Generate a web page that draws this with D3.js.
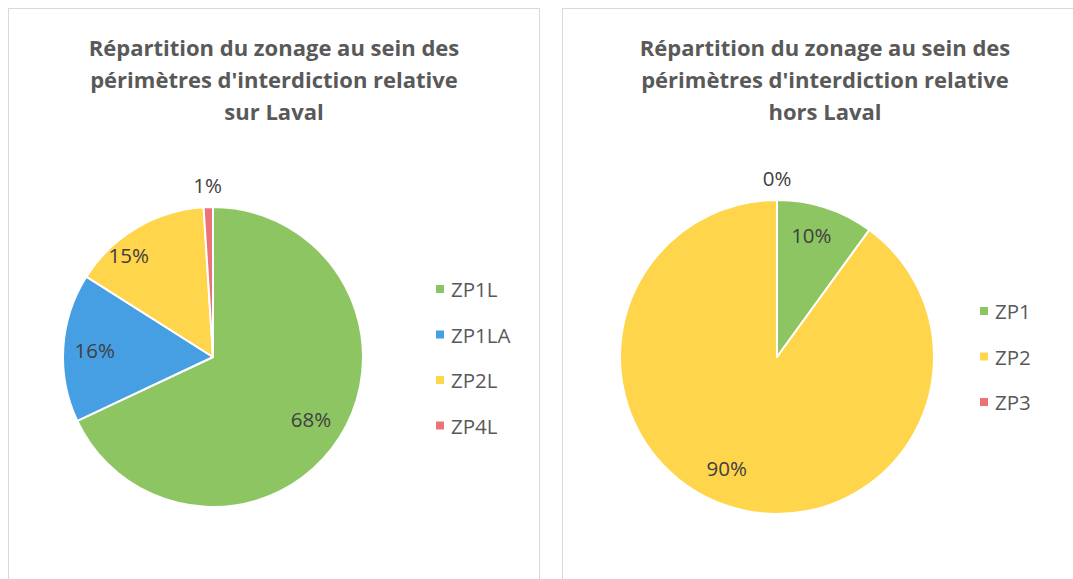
<!DOCTYPE html>
<html>
<head>
<meta charset="utf-8">
<script src="https://cdn.jsdelivr.net/npm/d3@7"></script>
<style>
  html, body { margin: 0; padding: 0; background: #fff; }
  svg { display: block; }
</style>
</head>
<body>
<svg id="chart" width="1073" height="579"></svg>
<script>
// Zonage au sein des périmètres d'interdiction relative
const lavalCategories = ["ZP1L", "ZP1LA", "ZP2L", "ZP4L"];
const lavalValues = [68, 16, 15, 1];
const lavalTitle = ["Répartition du zonage au sein des", "périmètres d'interdiction relative", "sur Laval"];

const horsCategories = ["ZP1", "ZP2", "ZP3"];
const horsValues = [10, 90, 0];
const horsTitle = ["Répartition du zonage au sein des", "périmètres d'interdiction relative", "hors Laval"];

const lavalColors = ["#8DC563", "#479FE3", "#FFD54B", "#EA7378"];
const horsColors = ["#8DC563", "#FFD54B", "#EA7378"];

const svg = d3.select("#chart");
const FONT = "'Open Sans', sans-serif";
const LABEL_SIZE = 20.5;

function drawPanel(cfg) {
  const g = svg.append("g");
  // panel frame
  g.append("rect")
    .attr("x", cfg.frame[0] + 0.5).attr("y", cfg.frame[1] + 0.5)
    .attr("width", cfg.frame[2]).attr("height", cfg.frame[3])
    .attr("fill", "#fff").attr("stroke", "#D9D9D9").attr("stroke-width", 1);

  // title
  g.append("text")
    .attr("x", cfg.titleX).attr("y", 56)
    .attr("text-anchor", "middle")
    .attr("font-family", FONT).attr("font-weight", "bold")
    .attr("font-size", cfg.titleSize).attr("fill", "#595959")
    .selectAll("tspan").data(cfg.title).join("tspan")
    .attr("x", cfg.titleX).attr("dy", (d, i) => i === 0 ? 0 : 32)
    .text(d => d);

  const data = cfg.categories.map((c, i) => ({ cat: c, value: cfg.values[i], color: cfg.colors[i] }));
  const pie = d3.pie().sort(null).value(d => d.value);
  const arcs = pie(data);
  const arc = d3.arc().innerRadius(0).outerRadius(cfg.r);

  const pg = g.append("g").attr("transform", `translate(${cfg.cx},${cfg.cy})`);
  pg.selectAll("path").data(arcs).join("path")
    .attr("d", arc)
    .attr("fill", d => d.data.color)
    .attr("stroke", "#fff").attr("stroke-width", 2).attr("stroke-linejoin", "round");

  // data labels: inside for large slices, above the pie for tiny ones
  pg.selectAll("text.lbl").data(arcs).join("text")
    .attr("class", "lbl")
    .attr("text-anchor", "middle")
    .attr("dominant-baseline", "central")
    .attr("font-family", FONT).attr("font-size", LABEL_SIZE).attr("fill", "#404040")
    .attr("transform", d => {
      const frac = (d.endAngle - d.startAngle) / (2 * Math.PI);
      const nudge = cfg.labelNudge[d.data.cat] || [0, 0];
      let p;
      if (frac < 0.03) {
        const a = (d.startAngle + d.endAngle) / 2;
        const rr = cfg.r + 22;
        p = [Math.sin(a) * rr, -Math.cos(a) * rr];
      } else {
        p = d3.arc().innerRadius(0).outerRadius(cfg.r * 1.58).centroid(d);
      }
      return `translate(${p[0] + nudge[0]},${p[1] + nudge[1]})`;
    })
    .text(d => d.data.value + "%");

  // legend
  const lg = g.append("g");
  const items = lg.selectAll("g").data(data).join("g")
    .attr("transform", (d, i) => `translate(${cfg.legendX},${cfg.legendY + i * cfg.legendStep})`);
  items.append("rect").attr("x", -4).attr("y", -4).attr("width", 8).attr("height", 8)
    .attr("fill", d => d.color);
  items.append("text").attr("x", 11).attr("y", 0)
    .attr("dominant-baseline", "central")
    .attr("font-family", FONT).attr("font-size", LABEL_SIZE).attr("fill", "#595959")
    .text(d => d.cat);
}

drawPanel({
  frame: [8, 8, 531, 600],
  titleX: 274, titleSize: 22,
  title: lavalTitle,
  categories: lavalCategories, values: lavalValues, colors: lavalColors,
  cx: 213, cy: 357, r: 150,
  labelNudge: { "ZP1L": [-2, -1], "ZP2L": [-24, 0] },
  legendX: 440, legendY: 289, legendStep: 45.5
});

drawPanel({
  frame: [562, 8, 540, 600],
  titleX: 825, titleSize: 22,
  title: horsTitle,
  categories: horsCategories, values: horsValues, colors: horsColors,
  cx: 777, cy: 357, r: 157,
  labelNudge: { "ZP1": [-4, -4], "ZP2": [-12, -7] },
  legendX: 984, legendY: 311, legendStep: 45.5
});
</script>
</body>
</html>
